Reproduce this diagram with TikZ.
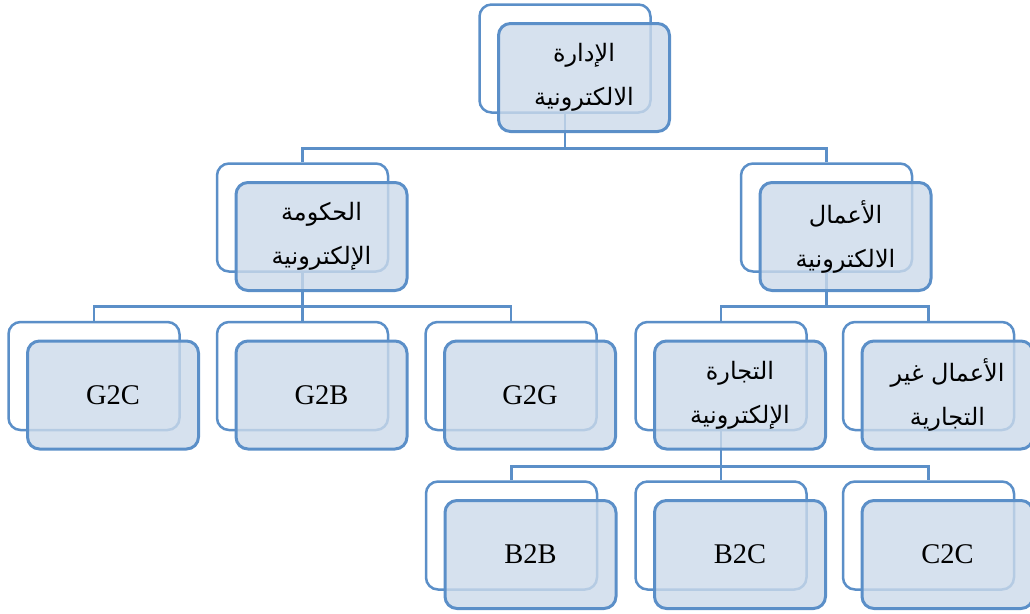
\documentclass[tikz,border=0pt]{standalone}
\usepackage{fontspec}
\setmainfont{Liberation Serif}
\newfontfamily\arabicfont[Script=Arabic]{DejaVu Sans}
\TeXXeTstate=1
\definecolor{lineblue}{RGB}{91,143,200}
\definecolor{fillblue}{RGB}{204,218,234}
\newcommand\arabtxt{\arabicfont\fontsize{24}{44}\selectfont}
\newcommand\lattxt{\fontsize{28.5}{34}\selectfont}
\begin{document}
\begin{tikzpicture}[x=1pt,y=-1pt,
  backbox/.style={draw=lineblue, line width=2.5pt, rounded corners=12pt, fill=white,
    minimum width=171pt, minimum height=108pt, inner sep=0pt},
  frontbox/.style={draw=lineblue, line width=3pt, rounded corners=12pt, fill=fillblue,
    fill opacity=0.8, text opacity=1, draw opacity=1,
    minimum width=171pt, minimum height=108pt, inner sep=0pt, align=center},
  ar/.style={font=\arabtxt},
  la/.style={font=\lattxt},
  link/.style={draw=lineblue, line width=2.8pt}]
\useasboundingbox (0,0) rectangle (1030,613);
% back frames
\node[backbox] (topB) at (565,58.5) {};
\node[backbox] (govB) at (302.5,217.5) {};
\node[backbox] (busB) at (826.5,217.5) {};
\node[backbox] (gtcB) at (94,376) {};
\node[backbox] (gtbB) at (302.5,376) {};
\node[backbox] (gtgB) at (511,376) {};
\node[backbox] (traB) at (721,376) {};
\node[backbox] (nonB) at (928.5,376) {};
\node[backbox] (btbB) at (511.5,535.5) {};
\node[backbox] (btcB) at (721,535.5) {};
\node[backbox] (ctcB) at (928.5,535.5) {};
% connectors
\draw[link] (topB.south) -- ++(0,35) -| (govB.north);
\draw[link] (topB.south) -- ++(0,35) -| (busB.north);
\draw[link] (govB.south) -- ++(0,34) -| (gtcB.north);
\draw[link] (govB.south) -- ++(0,34) -| (gtbB.north);
\draw[link] (govB.south) -- ++(0,34) -| (gtgB.north);
\draw[link] (busB.south) -- ++(0,34) -| (traB.north);
\draw[link] (busB.south) -- ++(0,34) -| (nonB.north);
\draw[link] (traB.south) -- ++(0,35) -| (btbB.north);
\draw[link] (traB.south) -- ++(0,35) -| (btcB.north);
\draw[link] (traB.south) -- ++(0,35) -| (ctcB.north);
% front boxes
\node[frontbox,ar] (topF) at (584,77.5) {\beginR الإدارة\endR\\\beginR الالكترونية\endR};
\node[frontbox,ar] (govF) at (321.5,236.5) {\beginR الحكومة\endR\\\beginR الإلكترونية\endR};
\node[frontbox,ar] (busF) at (845.5,236.5) {\beginR الأعمال\endR\\\beginR الالكترونية\endR};
\node[frontbox,la] (gtcF) at (113,395) {G2C};
\node[frontbox,la] (gtbF) at (321.5,395) {G2B};
\node[frontbox,la] (gtgF) at (530,395) {G2G};
\node[frontbox,ar] (traF) at (740,395) {\beginR التجارة\endR\\\beginR الإلكترونية\endR};
\node[frontbox,ar] (nonF) at (947.5,395) {\beginR الأعمال غير\endR\\\beginR التجارية\endR};
\node[frontbox,la] (btbF) at (530.5,554.5) {B2B};
\node[frontbox,la] (btcF) at (740,554.5) {B2C};
\node[frontbox,la] (ctcF) at (947.5,554.5) {C2C};
\end{tikzpicture}
\end{document}
